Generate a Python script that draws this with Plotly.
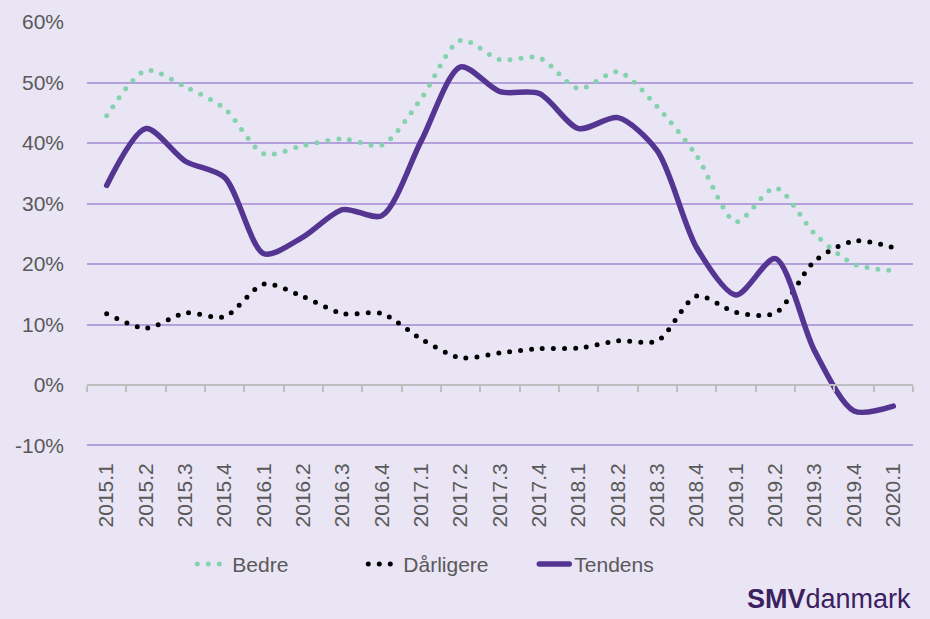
import plotly.graph_objects as go

quarters = ["2015.1", "2015.2", "2015.3", "2015.4", "2016.1", "2016.2", "2016.3", "2016.4",
            "2017.1", "2017.2", "2017.3", "2017.4", "2018.1", "2018.2", "2018.3", "2018.4",
            "2019.1", "2019.2", "2019.3", "2019.4", "2020.1"]

bedre = [44.5, 52.0, 49.3, 45.7, 38.2, 39.6, 40.7, 39.7, 47.4, 57.0, 53.8,
         54.1, 49.0, 51.8, 46.0, 37.9, 27.0, 32.6, 25.0, 20.0, 18.9]
daarligere = [11.8, 9.4, 11.9, 11.3, 16.7, 14.6, 11.8, 11.8, 7.6, 4.5, 5.3,
              6.0, 6.1, 7.3, 7.3, 14.7, 12.0, 11.9, 20.5, 23.8, 22.7]
tendens = [33.0, 42.4, 37.0, 34.3, 21.7, 24.5, 29.0, 28.0, 40.4, 52.6, 48.5,
           48.2, 42.4, 44.2, 38.7, 22.7, 14.9, 20.9, 5.6, -4.3, -3.5]

y_ticks = [-10, 0, 10, 20, 30, 40, 50, 60]
y_labels = ["-10%", "0%", "10%", "20%", "30%", "40%", "50%", "60%"]

BG = "#E9E5F5"
TXT = "#595959"
AXIS = "#BFBFBF"
Y_MIN, Y_MAX = -10.25, 60.02

fig = go.Figure()
fig.add_trace(go.Scatter(x=quarters, y=bedre, name="Bedre", mode="lines",
                         line=dict(color="#84D3AE", width=5, dash="0px,11px",
                                   shape="spline", smoothing=0.8)))
fig.add_trace(go.Scatter(x=quarters, y=daarligere, name="Dårligere", mode="lines",
                         line=dict(color="#000000", width=5, dash="0px,11px",
                                   shape="spline", smoothing=0.8)))
fig.add_trace(go.Scatter(x=quarters, y=tendens, name="Tendens", mode="lines",
                         line=dict(color="#553592", width=5.5,
                                   shape="spline", smoothing=0.8)))
# empty trace so the category axis at 0% gets drawn
fig.add_trace(go.Scatter(x=[None], y=[None], xaxis="x2", showlegend=False,
                         hoverinfo="skip"))

fig.update_layout(
    width=930, height=619,
    paper_bgcolor=BG, plot_bgcolor=BG,
    margin=dict(l=87, r=17, t=22, b=172, autoexpand=False),
    font=dict(family="Liberation Sans, Arial, sans-serif", color=TXT, size=21),
    showlegend=True,
    legend=dict(orientation="h", x=0.438, xanchor="center", y=-0.276, yanchor="middle",
                font=dict(size=21), bgcolor="rgba(0,0,0,0)", entrywidth=126),
    xaxis=dict(type="category", range=[-0.5, 20.5], showgrid=False, showline=False,
               ticks="", tickangle=-90, tickfont=dict(size=21), ticklabelstandoff=11,
               automargin=False),
    xaxis2=dict(overlaying="x", anchor="free", position=(0 - Y_MIN) / (Y_MAX - Y_MIN),
                range=[-0.5, 20.5],
                tick0=-0.5, dtick=1, ticks="outside", ticklen=6, tickcolor=AXIS,
                tickwidth=1.5, showline=True, linecolor=AXIS, linewidth=1.5,
                showgrid=False, showticklabels=False, zeroline=False, automargin=False),
    yaxis=dict(range=[Y_MIN, Y_MAX], tickvals=y_ticks, ticktext=y_labels, showgrid=True,
               gridcolor="#B4A0DC", gridwidth=2, zeroline=False, showline=False,
               ticks="", ticklabelstandoff=22, tickfont=dict(size=21), automargin=False),
)

fig.add_annotation(text="<b>SMV</b>danmark", xref="paper", yref="paper", x=1.0, y=-0.358,
                   xanchor="right", yanchor="middle", showarrow=False,
                   font=dict(family="Liberation Sans Narrow, Arial Narrow, sans-serif",
                             size=27, color="#3B2160"))

post = """
document.body.style.margin = '0';
document.querySelectorAll('.js-line').forEach(function(p){p.style.strokeLinecap='round';});
"""
fig.write_html("out.html", post_script=post, config={"displayModeBar": False})
